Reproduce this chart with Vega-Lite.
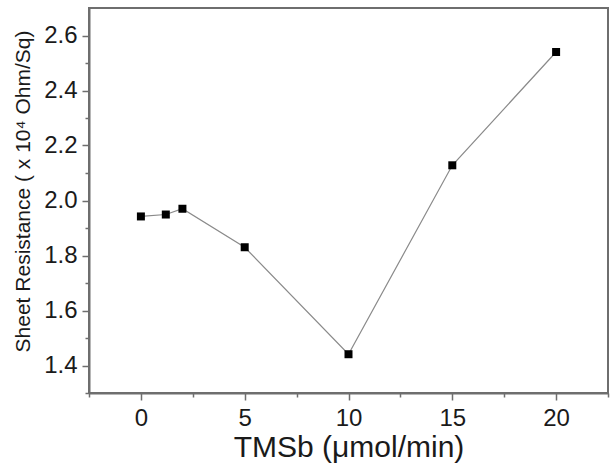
{
  "$schema": "https://vega.github.io/schema/vega-lite/v6.json",
  "autosize": "none",
  "width": 519,
  "height": 385,
  "padding": {"left": 89, "top": 8, "right": 6, "bottom": 72},
  "background": "white",
  "config": {
    "font": "Liberation Sans",
    "view": {"stroke": "#6e6e6e", "strokeWidth": 2},
    "axis": {
      "grid": false,
      "domainColor": "#6e6e6e",
      "domainWidth": 2,
      "tickColor": "#6e6e6e",
      "tickWidth": 1.5,
      "labelColor": "#1a1a1a",
      "titleColor": "#1a1a1a",
      "labelFont": "Liberation Sans",
      "titleFont": "Liberation Sans",
      "titleFontWeight": "normal"
    }
  },
  "data": {
    "values": [
      {"tmsb": 0, "resistance": 1.942},
      {"tmsb": 1.2, "resistance": 1.949},
      {"tmsb": 2, "resistance": 1.970},
      {"tmsb": 5, "resistance": 1.830},
      {"tmsb": 10, "resistance": 1.441},
      {"tmsb": 15, "resistance": 2.128},
      {"tmsb": 20, "resistance": 2.540}
    ]
  },
  "encoding": {
    "x": {
      "field": "tmsb",
      "type": "quantitative",
      "scale": {"domain": [-2.5, 22.5], "nice": false, "zero": false}
    },
    "y": {
      "field": "resistance",
      "type": "quantitative",
      "scale": {"domain": [1.3, 2.7], "nice": false, "zero": false}
    }
  },
  "layer": [
    {
      "mark": {"type": "line", "color": "#8a8a8a", "strokeWidth": 1.2},
      "encoding": {
        "x": {
          "field": "tmsb",
          "type": "quantitative",
          "axis": {
            "orient": "bottom",
            "values": [0, 5, 10, 15, 20],
            "tickSize": 7,
            "labelFontSize": 24,
            "labelPadding": 6,
            "title": "TMSb (μmol/min)",
            "titleFontSize": 30,
            "titlePadding": 2
          }
        },
        "y": {
          "field": "resistance",
          "type": "quantitative",
          "axis": {
            "orient": "left",
            "values": [1.4, 1.6, 1.8, 2.0, 2.2, 2.4, 2.6],
            "format": ".1f",
            "tickSize": 7,
            "labelFontSize": 24,
            "labelPadding": 5,
            "title": "Sheet Resistance ( x 10⁴ Ohm/Sq)",
            "titleFontSize": 21,
            "titlePadding": 10,
            "titleY": 183
          }
        }
      }
    },
    {
      "mark": {"type": "point", "shape": "square", "filled": true, "color": "black", "size": 64, "opacity": 1},
      "encoding": {
        "x": {
          "field": "tmsb",
          "type": "quantitative",
          "axis": {
            "orient": "bottom",
            "values": [-2.5, 2.5, 7.5, 12.5, 17.5, 22.5],
            "tickSize": 4,
            "labels": false,
            "domain": false,
            "title": null
          }
        },
        "y": {
          "field": "resistance",
          "type": "quantitative",
          "axis": {
            "orient": "left",
            "values": [1.3, 1.5, 1.7, 1.9, 2.1, 2.3, 2.5],
            "tickSize": 4,
            "labels": false,
            "domain": false,
            "title": null
          }
        }
      }
    }
  ],
  "resolve": {"axis": {"x": "independent", "y": "independent"}}
}
